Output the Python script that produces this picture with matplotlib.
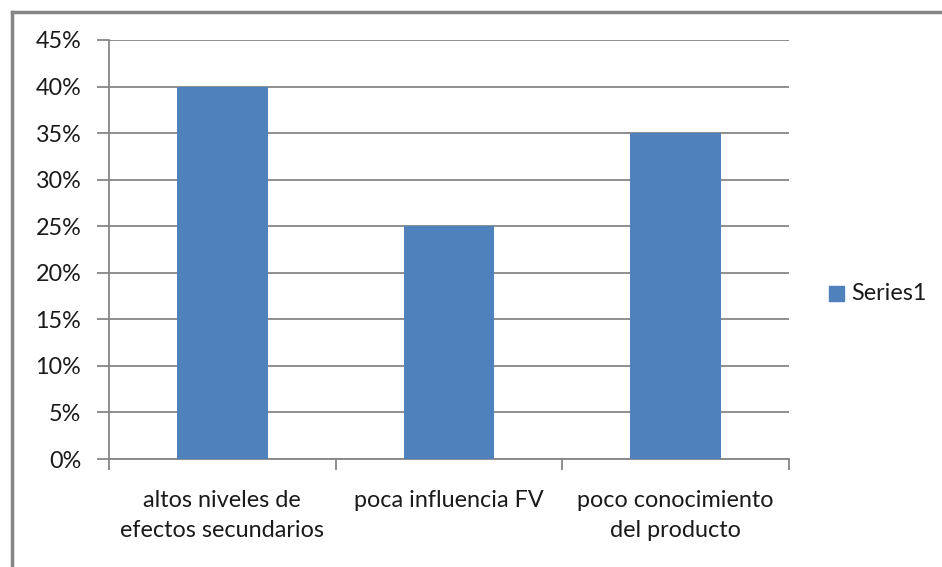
import matplotlib
matplotlib.use("Agg")
import matplotlib.pyplot as plt
from matplotlib.lines import Line2D
from matplotlib.patches import Rectangle
from matplotlib.ticker import FixedLocator, NullFormatter

categories = ["altos niveles de\nefectos secundarios",
              "poca influencia FV",
              "poco conocimiento\ndel producto"]
values = [0.40, 0.25, 0.35]
y_ticks = [0.00, 0.05, 0.10, 0.15, 0.20, 0.25, 0.30, 0.35, 0.40, 0.45]
y_tick_labels = ["0%", "5%", "10%", "15%", "20%", "25%", "30%", "35%", "40%", "45%"]
series_name = "Series1"

bar_color = "#4F81BD"
grid_color = "#868686"
text_color = "#1a1a1a"
font = ["Lato", "DejaVu Sans"]
plt.rcParams["font.family"] = font
fs = 16.8

W, H = 942, 567
fig = plt.figure(figsize=(W / 100, H / 100), dpi=100)
ax = fig.add_axes([109 / W, 1 - 459 / H, (789 - 109) / W, (459 - 40) / H])

x = list(range(len(categories)))
ax.bar(x, values, width=0.4, color=bar_color, zorder=3)
ax.set_xlim(-0.5, len(categories) - 0.5)
ax.set_ylim(0, 0.45)

ax.set_yticks(y_ticks)
ax.set_yticklabels(y_tick_labels, fontsize=fs, color=text_color)
ax.yaxis.grid(True, color=grid_color, linewidth=1.3, zorder=0)
ax.tick_params(axis="y", length=9, width=1.3, color=grid_color, pad=11)

ax.set_xticks(x)
ax.set_xticklabels(categories, fontsize=fs, color=text_color, linespacing=1.55)
ax.tick_params(axis="x", which="major", length=0, pad=22)
ax.xaxis.set_minor_locator(FixedLocator([i - 0.5 for i in range(len(categories) + 1)]))
ax.xaxis.set_minor_formatter(NullFormatter())
ax.tick_params(axis="x", which="minor", length=8, width=1.3, color=grid_color)

for side in ("top", "right"):
    ax.spines[side].set_visible(False)
ax.spines["left"].set_color(grid_color)
ax.spines["left"].set_linewidth(1.3)
ax.spines["bottom"].set_color(grid_color)
ax.spines["bottom"].set_linewidth(1.3)

# legend entry
fig.patches.append(Rectangle((829 / W, 1 - 301 / H), 15 / W, 15 / H,
                             transform=fig.transFigure, color=bar_color))
fig.text(851 / W, 1 - 294 / H, series_name, fontsize=fs, color=text_color,
         va="center", ha="left")

# outer chart border
fig.lines.append(Line2D([11.5 / W, 11.5 / W], [0, 1 - 12 / H], transform=fig.transFigure,
                        color="#868686", linewidth=2.5))
fig.lines.append(Line2D([11.5 / W, 1], [1 - 12 / H, 1 - 12 / H], transform=fig.transFigure,
                        color="#868686", linewidth=2.5))

fig.savefig("out.png", dpi=100)
